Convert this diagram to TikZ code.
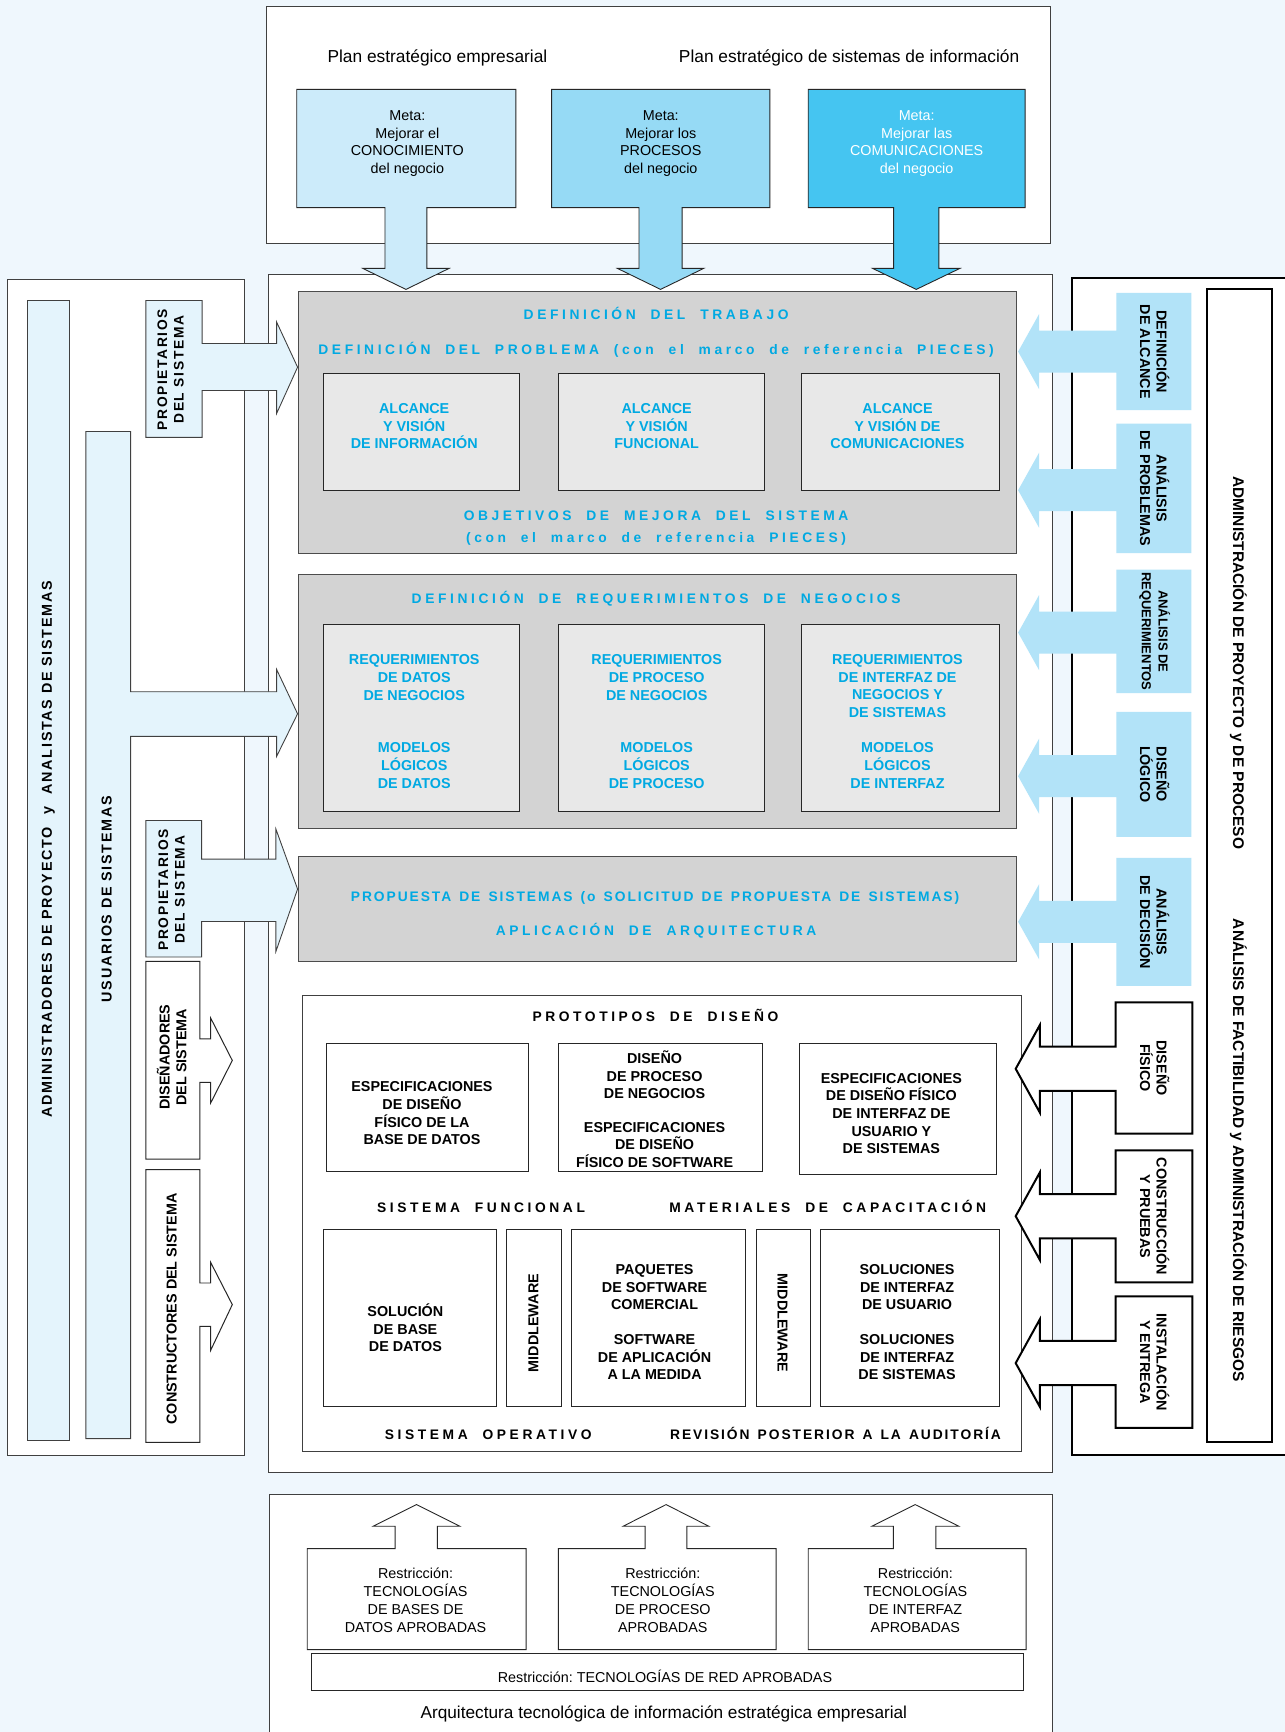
\documentclass[tikz,border=0pt]{standalone}
\usepackage{fontspec}
\setmainfont{Liberation Sans}
\newfontfamily\trk[LetterSpace=26,WordSpace=2]{Liberation Sans}
\newfontfamily\trkm[LetterSpace=14,WordSpace=1.4]{Liberation Sans}
\newfontfamily\trks[LetterSpace=12]{Liberation Sans}
\definecolor{bgblue}{RGB}{239,247,253}
\definecolor{paleblue}{RGB}{228,244,252}
\definecolor{sideblue}{RGB}{178,227,248}
\definecolor{metaA}{RGB}{204,235,250}
\definecolor{metaB}{RGB}{150,218,245}
\definecolor{metaC}{RGB}{69,197,241}
\definecolor{boxgray}{RGB}{211,211,211}
\definecolor{innergray}{RGB}{232,232,232}
\definecolor{txtblue}{RGB}{0,169,226}
\newcommand\fs[2]{\fontsize{#1}{#2}\selectfont}
\frenchspacing
\begin{document}
\begin{tikzpicture}[x=1pt,y=-1pt,inner sep=0pt,
  frame/.style={fill=white,draw=black!75,line width=0.8pt},
  heavy/.style={fill=white,draw=black,line width=1.8pt},
  grayblock/.style={fill=boxgray,draw=black!70,line width=0.9pt},
  innerblock/.style={fill=innergray,draw=black!85,line width=0.9pt},
  plainbox/.style={fill=white,draw=black!85,line width=0.9pt},
  palebox/.style={fill=paleblue,draw=black!75,line width=0.8pt},
  metabox/.style={draw=black!85,line width=0.8pt,line join=miter},
  boldarrow/.style={fill=white,draw=black,line width=1.8pt,line join=miter},
  metatext/.style={align=center,font=\fs{13}{16.2}},
  bluetext/.style={align=center,text=txtblue,font=\bfseries\fs{13}{16}},
  blacktext/.style={align=center,font=\bfseries\fs{13}{16}},
  bluetrack/.style={text=txtblue,font={\trk\bfseries\fs{12.5}{15}}},
  blacktrack/.style={font={\trk\bfseries\fs{12.5}{15}}},
  sidetext/.style={align=center,font=\bfseries\fs{13}{15},rotate=-90},
  roletext/.style={align=center,font={\trks\bfseries\fs{12.5}{15}},rotate=90}
]
\fill[bgblue] (0,0) rectangle (1163,1568);
\useasboundingbox (0,0) rectangle (1163,1568);

% frames
\draw[frame] (240.8,5.4) rectangle (951,220.8);
\draw[frame] (7,253) rectangle (221.7,1318);
\draw[frame] (243,248.5) rectangle (953,1333);
\draw[heavy] (970.5,252) rectangle (1190,1317);
\draw[frame] (243.6,1353) rectangle (953,1580);

% gray blocks
\draw[grayblock] (270,264) rectangle (920,501);
\draw[grayblock] (270,520.5) rectangle (920,749.7);
\draw[grayblock] (270,775.3) rectangle (920,870.4);
\foreach \a/\b in {293.3/470.5, 506/691.7, 725.9/904.4} {
  \draw[innerblock] (\a,337.9) rectangle (\b,444.4);
  \draw[innerblock] (\a,565) rectangle (\b,734.3);
}

% prototype block
\draw[frame] (274,901.4) rectangle (924.5,1313.8);
\draw[plainbox] (295.3,944.3) rectangle (478.1,1061);
\draw[plainbox] (505.9,944.3) rectangle (690.5,1061);
\draw[plainbox] (723.8,944.3) rectangle (902.3,1062.9);
\foreach \a/\b in {293.3/449.5, 458.9/508, 517.4/674.6, 684.5/733.6, 743/904.4}
  \draw[plainbox] (\a,1113.2) rectangle (\b,1273.1);

% left bars and arrows
\draw[palebox] (25,272) rectangle (62.5,1303.9);
\draw[palebox,line join=miter] (77.8,390.6) -- (118.3,390.6) -- (118.3,626.2) -- (250.4,626.2) -- (250.4,606) -- (269.4,646.2) -- (250.4,684.8) -- (250.4,666.6) -- (118.3,666.6) -- (118.3,1302.4) -- (77.8,1302.4) -- cycle;
\draw[palebox,line join=miter] (132,272) -- (183,272) -- (183,311) -- (250.4,311) -- (250.4,291.5) -- (269.4,332.4) -- (250.4,374.4) -- (250.4,353.5) -- (183,353.5) -- (183,396) -- (132,396) -- cycle;
\draw[palebox,line join=miter] (132,742.8) -- (182.5,742.8) -- (182.5,777.8) -- (249.8,777.8) -- (249.8,750.6) -- (269.4,804.9) -- (249.8,861.3) -- (249.8,834.2) -- (182.5,834.2) -- (182.5,866.4) -- (132,866.4) -- cycle;
\draw[plainbox,line join=miter] (132,870.4) -- (181,870.4) -- (181,940.6) -- (190.7,940.6) -- (190.7,921.6) -- (210.3,960) -- (190.7,998.6) -- (190.7,979.9) -- (181,979.9) -- (181,1049.3) -- (132,1049.3) -- cycle;
\draw[plainbox,line join=miter] (132,1058.9) -- (181,1058.9) -- (181,1161.5) -- (190.7,1161.5) -- (190.7,1142.8) -- (210.3,1181.1) -- (190.7,1222.5) -- (190.7,1200.7) -- (181,1200.7) -- (181,1305.7) -- (132,1305.7) -- cycle;

% right light-blue arrows
\foreach \t/\b/\c in {265.2/371.2/318.3, 383.6/500.8/443.8, 515.7/627.5/572.7, 644.5/757.6/702.7, 776.6/892.6/834.5}
  \fill[sideblue] (1078.5,\t) -- (1078.5,\b) -- (1010.7,\b) -- (1010.7,{\c+19}) -- (940.7,{\c+19}) -- (940.7,{\c+34}) -- (921.7,\c) -- (940.7,{\c-34}) -- (940.7,{\c-19}) -- (1010.7,{\c-19}) -- (1010.7,\t) -- cycle;

% inner administration box
\draw[fill=white,draw=black,line width=2pt] (1092.7,261.9) rectangle (1151.8,1305.7);

% right outlined arrows
\foreach \t/\b/\c in {907.5/1026.3/967.6, 1041.4/1160.9/1101, 1173.6/1292.7/1234}
  \draw[boldarrow] (1010,\t) -- (1079.5,\t) -- (1079.5,\b) -- (1010,\b) -- (1010,{\c+20}) -- (941.3,{\c+20}) -- (941.3,{\c+39.5}) -- (919.5,\c) -- (941.3,{\c-39.5}) -- (941.3,{\c-20}) -- (1010,{\c-20}) -- cycle;

% meta boxes with down arrows
\draw[metabox,fill=metaA] (268.6,80.9) -- (467,80.9) -- (467,188) -- (386.5,188) -- (386.5,243) -- (406.5,243) -- (367.5,262) -- (328.5,243) -- (348.5,243) -- (348.5,188) -- (268.6,188) -- cycle;
\draw[metabox,fill=metaB] (499.4,80.9) -- (697,80.9) -- (697,188) -- (617.5,188) -- (617.5,243) -- (637,243) -- (598,262) -- (559,243) -- (578.5,243) -- (578.5,188) -- (499.4,188) -- cycle;
\draw[metabox,fill=metaC] (731.7,80.9) -- (928,80.9) -- (928,188) -- (850,188) -- (850,243) -- (869,243) -- (829.5,262) -- (790,243) -- (809,243) -- (809,188) -- (731.7,188) -- cycle;

% restriction boxes with up arrows
\draw[metabox,fill=white] (278.2,1402) -- (357.7,1402) -- (357.7,1381.7) -- (337.9,1381.7) -- (377,1362.1) -- (416.3,1381.7) -- (396,1381.7) -- (396,1402) -- (476.3,1402) -- (476.3,1493.4) -- (278.2,1493.4) -- cycle;
\draw[metabox,fill=white] (505.5,1402) -- (584,1402) -- (584,1381.7) -- (564.1,1381.7) -- (603,1362.1) -- (641.7,1381.7) -- (621.8,1381.7) -- (621.8,1402) -- (702.6,1402) -- (702.6,1493.4) -- (505.5,1493.4) -- cycle;
\draw[metabox,fill=white] (731.7,1402) -- (808.8,1402) -- (808.8,1381.7) -- (789.4,1381.7) -- (828.5,1362.1) -- (868,1381.7) -- (847.2,1381.7) -- (847.2,1402) -- (928.9,1402) -- (928.9,1493.4) -- (731.7,1493.4) -- cycle;
\draw[metabox,fill=white] (281.5,1497) rectangle (926.6,1530.2);

% ---- texts ----
\node[font=\fs{15.7}{18},anchor=base] (plan1) at (396,56.6) {Plan estratégico empresarial};
\node[font=\fs{15.7}{18},anchor=base] (plan2) at (768.7,56.6) {Plan estratégico de sistemas de información};
\node[metatext] (meta1t) at (368.8,130) {Meta:\\Mejorar el\\CONOCIMIENTO\\del negocio};
\node[metatext] (meta2t) at (598.2,130) {Meta:\\Mejorar los\\PROCESOS\\del negocio};
\node[metatext,text=white] (meta3t) at (829.9,130) {Meta:\\Mejorar las\\COMUNICACIONES\\del negocio};

\node[bluetrack,anchor=base] (trabajo) at (594,289.5) {DEFINICIÓN DEL TRABAJO};
\node[bluetrack,anchor=base] (problema) at (594,320.5) {DEFINICIÓN DEL PROBLEMA (con el marco de referencia PIECES)};
\node[bluetext] (alc1) at (375,386) {ALCANCE\\Y VISIÓN\\DE INFORMACIÓN};
\node[bluetext] (alc2) at (594.5,386) {ALCANCE\\Y VISIÓN\\FUNCIONAL};
\node[bluetext] (alc3) at (812.5,386) {ALCANCE\\Y VISIÓN DE\\COMUNICACIONES};
\node[bluetrack,anchor=base] (objetivos) at (594,471.5) {OBJETIVOS DE MEJORA DEL SISTEMA};
\node[bluetrack,anchor=base] (pieces) at (594,490.8) {(con el marco de referencia PIECES)};

\node[bluetrack,anchor=base] (defreq) at (594,546) {DEFINICIÓN DE REQUERIMIENTOS DE NEGOCIOS};
\node[bluetext] (rq1) at (375,613.3) {REQUERIMIENTOS\\DE DATOS\\DE NEGOCIOS};
\node[bluetext] (rq2) at (594.5,613.3) {REQUERIMIENTOS\\DE PROCESO\\DE NEGOCIOS};
\node[bluetext] (rq3) at (812.5,621) {REQUERIMIENTOS\\DE INTERFAZ DE\\NEGOCIOS Y\\DE SISTEMAS};
\node[bluetext] (ml1) at (375,693) {MODELOS\\LÓGICOS\\DE DATOS};
\node[bluetext] (ml2) at (594.5,693) {MODELOS\\LÓGICOS\\DE PROCESO};
\node[bluetext] (ml3) at (812.5,693) {MODELOS\\LÓGICOS\\DE INTERFAZ};

\node[text=txtblue,font={\trkm\bfseries\fs{12.5}{15}},anchor=base] (propuesta) at (593,816) {PROPUESTA DE SISTEMAS (o SOLICITUD DE PROPUESTA DE SISTEMAS)};
\node[bluetrack,anchor=base] (aplic) at (594,846.8) {APLICACIÓN DE ARQUITECTURA};

\node[blacktrack,anchor=base] (proto) at (593.4,924.5) {PROTOTIPOS DE DISEÑO};
\node[blacktext] (p1) at (382,1008) {ESPECIFICACIONES\\DE DISEÑO\\FÍSICO DE LA\\BASE DE DATOS};
\node[blacktext] (p2a) at (592.6,973) {DISEÑO\\DE PROCESO\\DE NEGOCIOS};
\node[blacktext] (p2b) at (592.6,1036.5) {ESPECIFICACIONES\\DE DISEÑO\\FÍSICO DE SOFTWARE};
\node[blacktext] (p3) at (807,1008) {ESPECIFICACIONES\\DE DISEÑO FÍSICO\\DE INTERFAZ DE\\USUARIO Y\\DE SISTEMAS};
\node[blacktrack,anchor=base] (sisfun) at (435.5,1098.1) {SISTEMA FUNCIONAL};
\node[blacktrack,anchor=base] (materiales) at (749.4,1098.1) {MATERIALES DE CAPACITACIÓN};
\node[blacktext] (b1) at (367,1202) {SOLUCIÓN\\DE BASE\\DE DATOS};
\node[blacktext,rotate=90] (mw1) at (483,1197.7) {MIDDLEWARE};
\node[blacktext,rotate=-90] (mw2) at (708.5,1197.7) {MIDDLEWARE};
\node[blacktext] (b3a) at (592.6,1165.3) {PAQUETES\\DE SOFTWARE\\COMERCIAL};
\node[blacktext] (b3b) at (592.6,1228.6) {SOFTWARE\\DE APLICACIÓN\\A LA MEDIDA};
\node[blacktext] (b5a) at (821.2,1165.3) {SOLUCIONES\\DE INTERFAZ\\DE USUARIO};
\node[blacktext] (b5b) at (821.2,1228.6) {SOLUCIONES\\DE INTERFAZ\\DE SISTEMAS};
\node[blacktrack,anchor=base] (sisop) at (442,1303.3) {SISTEMA OPERATIVO};
\node[font={\trkm\bfseries\fs{12.5}{15}},anchor=base] (revision) at (756.4,1303.3) {REVISIÓN POSTERIOR A LA AUDITORÍA};

\node[metatext,font=\fs{13}{16.4}] (r1) at (376.2,1448.5) {Restricción:\\TECNOLOGÍAS\\DE BASES DE\\DATOS APROBADAS};
\node[metatext,font=\fs{13}{16.4}] (r2) at (600,1448.5) {Restricción:\\TECNOLOGÍAS\\DE PROCESO\\APROBADAS};
\node[metatext,font=\fs{13}{16.4}] (r3) at (828.7,1448.5) {Restricción:\\TECNOLOGÍAS\\DE INTERFAZ\\APROBADAS};
\node[font=\fs{13}{16},anchor=base] (net) at (602,1523.5) {Restricción: TECNOLOGÍAS DE RED APROBADAS};
\node[font=\fs{15.6}{18},anchor=base] (arq) at (601,1555.5) {Arquitectura tecnológica de información estratégica empresarial};

% left texts
\node[font={\trks\bfseries\fs{13}{15}},rotate=90] (admtxt) at (43.7,769) {ADMINISTRADORES DE PROYECTO\hspace{6pt} y \hspace{6pt}ANALISTAS DE SISTEMAS};
\node[font={\trks\bfseries\fs{13}{15}},rotate=90] (usutxt) at (96.5,814) {USUARIOS DE SISTEMAS};
\node[roletext] (prop1t) at (154.5,334.7) {PROPIETARIOS\\DEL SISTEMA};
\node[roletext] (prop2t) at (155.4,805.5) {PROPIETARIOS\\DEL SISTEMA};
\node[align=center,font=\bfseries\fs{13}{15},rotate=90] (disen) at (155.4,957) {DISEÑADORES\\DEL SISTEMA};
\node[font=\bfseries\fs{13}{15},rotate=90] (constr) at (155.4,1185) {CONSTRUCTORES DEL SISTEMA};

% right texts
\node[sidetext] (s1) at (1045.4,318.5) {DEFINICIÓN\\DE ALCANCE};
\node[sidetext] (s2) at (1045.4,442.2) {ANÁLISIS\\DE PROBLEMAS};
\node[sidetext,font=\bfseries\fs{11.8}{15}] (s3) at (1045.4,571.6) {ANÁLISIS DE\\REQUERIMIENTOS};
\node[sidetext] (s4) at (1045.4,701) {DISEÑO\\LÓGICO};
\node[sidetext] (s5) at (1045.4,834.6) {ANÁLISIS\\DE DECISIÓN};
\node[sidetext] (o1) at (1045.4,966.9) {DISEÑO\\FÍSICO};
\node[sidetext] (o2) at (1045.4,1101.2) {CONSTRUCCIÓN\\Y PRUEBAS};
\node[sidetext] (o3) at (1045.4,1233.2) {INSTALACIÓN\\Y ENTREGA};
\node[font=\bfseries\fs{14}{16},rotate=-90] (adm1) at (1121,600) {ADMINISTRACIÓN DE PROYECTO y DE PROCESO};
\node[font=\bfseries\fs{14}{16},rotate=-90] (adm2) at (1121,1041.5) {ANÁLISIS DE FACTIBILIDAD y ADMINISTRACIÓN DE RIESGOS};
\end{tikzpicture}
\end{document}
